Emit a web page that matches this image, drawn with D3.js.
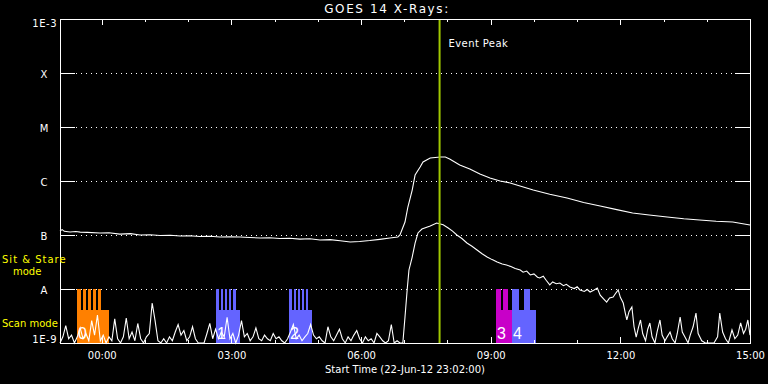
<!DOCTYPE html>
<html><head><meta charset="utf-8">
<script src="https://cdn.jsdelivr.net/npm/d3@7"></script>
<style>
html,body{margin:0;padding:0;background:#000;}
svg{display:block;}
text{font-family:"DejaVu Sans",sans-serif;}
</style></head>
<body>
<svg id="chart" width="768" height="384"></svg>
<script>
// ---------- DATA ----------
// time in minutes relative to 23-Jun-12 00:00 (start 22-Jun 23:02 = -58)
const timeStart = -58, timeEnd = 900;
const titleText = "GOES 14 X-Rays:";
const xTitle = "Start Time (22-Jun-12 23:02:00)";
const majorTicks = [0, 180, 360, 540, 720, 900];
const majorLabels = ["00:00", "03:00", "06:00", "09:00", "12:00", "15:00"];
const minorTicks = [60, 120, 240, 300, 420, 480, 600, 660, 780, 840];
const classValues = [1e-8, 1e-7, 1e-6, 1e-5, 1e-4];
const classLabels = ["A", "B", "C", "M", "X"];
const eventPeak = 469;

// long channel (1-8 A) [minute, W/m2]
const longTimes = [-58,-55,-52,-44,-36,-30,-20,-2.5,10,25,40,53,67,81,95,109,122,136,150,164,178,192,205,220,233,247,261,275,289,303,317,331,345,358,372,386,400,411,414,421,425,431,435,442,446,456,470,477,483,497,511,525,539,553,567,583,599,622,646,669,692,715,737,760,785,808,830,853,876,900];
const longFlux  = [1.19e-7,1.26e-7,1.17e-7,1.14e-7,1.16e-7,1.13e-7,1.12e-7,1.09e-7,1.10e-7,1.04e-7,1.06e-7,1.0e-7,1.01e-7,9.8e-8,9.9e-8,9.6e-8,9.7e-8,9.4e-8,9.5e-8,9.2e-8,9.3e-8,9.2e-8,9.0e-8,8.8e-8,8.9e-8,8.6e-8,8.7e-8,8.4e-8,8.5e-8,8.1e-8,8.2e-8,7.8e-8,7.4e-8,7.6e-8,7.9e-8,8.3e-8,8.8e-8,9.2e-8,1.0e-7,1.74e-7,3.3e-7,6.8e-7,1.29e-6,1.82e-6,2.25e-6,2.67e-6,2.78e-6,2.78e-6,2.55e-6,1.98e-6,1.67e-6,1.35e-6,1.14e-6,1.0e-6,9.2e-7,7.9e-7,6.8e-7,5.7e-7,4.84e-7,4.0e-7,3.44e-7,2.95e-7,2.56e-7,2.35e-7,2.15e-7,2.0e-7,1.9e-7,1.8e-7,1.74e-7,1.53e-7];

// short channel (0.5-4 A) [minute, W/m2]
const shortTimes = [-58,-54,-50,-46,-42,-38,-34,-30,-26,-22,-18,-14,-10,-6,-2,2,6,10,14,18,22,26,30,34,38,42,46,50,54,58,62,66,70,74,78,82,86,90,94,98,102,106,110,114,118,122,126,130,134,138,142,146,150,154,158,162,166,170,174,178,182,186,190,194,198,202,206,210,214,218,222,226,230,234,238,242,246,250,254,258,262,266,270,274,278,282,286,290,294,298,302,306,310,314,318,322,326,330,334,338,342,346,350,354,358,362,366,370,374,378,382,386,390,394,398,402,406,410,414,418,421,424,426.5,431,435,439,444.5,456,465,470,474,481,487,493,500,507,514,521,528,535,542,549,556,562,568,574,581,585,590,595,600,605,608,613,617,622,626,631,636,641,645,650,656,660,664,670,674,678,683,688,692,697,701,705,710,714,717,720,724,727,729,732,736,739,742,745,748,751,755,758,761,764,768,771,775,778,782,785,789,792,796,799,803,806,811,814,817,821,825,828,833,838,844,850,855,858,862,866,870,875,879,883,887,891,894,897,900];
const shortFlux = [1.0e-9,1.3e-9,2.1e-9,1.2e-9,1.4e-9,0.9e-9,1.3e-9,1.9e-9,1.2e-9,1.5e-9,1.1e-9,2.6e-9,1.4e-9,3.3e-9,1.1e-9,1.4e-9,1.0e-9,1.3e-9,1.1e-9,2.8e-9,1.2e-9,0.9e-9,1.3e-9,2.9e-9,1.2e-9,1.6e-9,1.1e-9,2.3e-9,1.2e-9,1.0e-9,1.3e-9,1.5e-9,5.5e-9,2.6e-9,1.1e-9,1.0e-9,1.2e-9,0.9e-9,1.3e-9,1.1e-9,1.6e-9,2.2e-9,1.4e-9,1.7e-9,1.1e-9,1.3e-9,2.0e-9,1.2e-9,0.9e-9,1.0e-9,0.9e-9,1.5e-9,2.3e-9,1.2e-9,1.8e-9,1.2e-9,1.6e-9,1.3e-9,3.0e-9,1.2e-9,1.5e-9,1.0e-9,1.4e-9,2.6e-9,1.3e-9,1.5e-9,1.1e-9,1.3e-9,1.9e-9,1.2e-9,1.1e-9,1.4e-9,1.2e-9,1.1e-9,1.5e-9,1.2e-9,1.3e-9,1.1e-9,1.0e-9,1.2e-9,1.6e-9,2.2e-9,1.2e-9,1.4e-9,1.1e-9,1.3e-9,1.5e-9,2.2e-9,1.4e-9,1.2e-9,1.3e-9,1.1e-9,1.0e-9,2.0e-9,1.3e-9,1.1e-9,1.4e-9,1.8e-9,1.2e-9,1.0e-9,1.3e-9,1.1e-9,1.4e-9,1.7e-9,1.2e-9,1.0e-9,1.3e-9,1.1e-9,1.2e-9,1.0e-9,1.5e-9,1.3e-9,1.1e-9,0.9e-9,1.1e-9,2.2e-9,0.9e-9,1.1e-9,0.8e-9,0.8e-9,3.03e-9,9.6e-9,2.25e-8,3.91e-8,7.1e-8,1.09e-7,1.29e-7,1.47e-7,1.67e-7,1.60e-7,1.55e-7,1.35e-7,1.18e-7,1.0e-7,8.6e-8,7.1e-8,6.2e-8,5.27e-8,4.5e-8,3.91e-8,3.5e-8,3.16e-8,2.9e-8,2.78e-8,2.6e-8,2.4e-8,2.25e-8,2.05e-8,2.15e-8,1.82e-8,1.9e-8,1.65e-8,1.6e-8,1.72e-8,1.45e-8,1.19e-8,1.35e-8,1.25e-8,1.29e-8,1.15e-8,1.22e-8,1.09e-8,1.02e-8,1.1e-8,9.6e-9,9.0e-9,9.8e-9,8.8e-9,9.5e-9,1.04e-8,7.7e-9,6.5e-9,5.7e-9,6.8e-9,7.1e-9,8.5e-9,9.6e-9,7.0e-9,5.5e-9,3.5e-9,2.67e-9,3.8e-9,4.64e-9,2.0e-9,1.29e-9,1.9e-9,2.67e-9,1.5e-9,1.1e-9,1.8e-9,2.35e-9,1.3e-9,0.9e-9,1.6e-9,2.67e-9,1.4e-9,1.1e-9,1.3e-9,1.6e-9,1.2e-9,0.9e-9,1.5e-9,3.03e-9,1.6e-9,1.2e-9,1.0e-9,1.4e-9,2.0e-9,3.59e-9,1.5e-9,1.1e-9,0.9e-9,0.8e-9,1.0e-9,1.3e-9,3.59e-9,1.6e-9,1.2e-9,1.0e-9,1.74e-9,1.2e-9,1.4e-9,2.35e-9,1.5e-9,1.8e-9,2.67e-9,1.4e-9];

// observation blocks (scan mode block + sit & stare prongs)
const obsLabels = ["0", "1", "2", "3", "4"];
const obsColors = ["#ff8000", "#6464ff", "#6464ff", "#c800c8", "#6464ff"];
const obsScan = [[-34.4, 10.0], [158.5, 191.9], [259.9, 291.8], [547.2, 569.4], [569.4, 602.7]];
const obsStare = [
  [[-34.4,-28.9],[-26.1,-21.9],[-19.2,-15.0],[-12.2,-8.1],[-5.3,-1.1]],
  [[158.5,162.7],[165.5,168.2],[171.0,173.8],[176.6,179.4],[182.2,186.3]],
  [[259.9,264.1],[266.8,269.6],[272.4,275.2],[278.0,280.7],[283.5,286.3]],
  [[547.2,554.2],[557.0,563.9]],
  [[569.4,579.1],[586.0,594.4]]
];
const scanLevel = 4.08e-9, stareLevel = 1e-8;
const modeLabels = ["Sit & Stare", "mode", "Scan mode"];

// ---------- DRAW ----------
const L = 60, R = 750, T = 19, B = 343;
const svg = d3.select("#chart");
svg.append("rect").attr("width", 768).attr("height", 384).attr("fill", "#000");

const x = d3.scaleLinear().domain([timeStart, timeEnd]).range([L, R]);
const y = d3.scaleLog().domain([1e-9, 1e-3]).range([B, T]).clamp(true);

// grid (dotted)
svg.append("g").selectAll("line").data(classValues).join("line")
  .attr("x1", L + 16).attr("x2", R - 15)
  .attr("y1", d => Math.round(y(d)) + 0.5).attr("y2", d => Math.round(y(d)) + 0.5)
  .attr("stroke", "#fff").attr("stroke-width", 1).attr("stroke-dasharray", "1,4")
  .attr("shape-rendering", "crispEdges");

// observation blocks
const obsG = svg.append("g").attr("shape-rendering", "crispEdges");
obsScan.forEach((s, i) => {
  obsG.append("rect").attr("x", x(s[0])).attr("width", x(s[1]) - x(s[0]))
    .attr("y", y(scanLevel)).attr("height", B - y(scanLevel)).attr("fill", obsColors[i]);
  obsStare[i].forEach(p => {
    obsG.append("rect").attr("x", x(p[0])).attr("width", x(p[1]) - x(p[0]))
      .attr("y", y(stareLevel)).attr("height", B - y(stareLevel)).attr("fill", obsColors[i]);
  });
});

// curves
const line = d3.line().x(d => x(d[0])).y(d => y(d[1]));
const longData = longTimes.map((t, i) => [t, longFlux[i]]);
const shortData = shortTimes.map((t, i) => [t, shortFlux[i]]);
svg.append("path").datum(longData).attr("d", line).attr("fill", "none")
  .attr("stroke", "#fff").attr("stroke-width", 1.1);
svg.append("path").datum(shortData).attr("d", line).attr("fill", "none")
  .attr("stroke", "#fff").attr("stroke-width", 1.1);

// observation labels
obsScan.forEach((s, i) => {
  svg.append("text").attr("x", x(s[0]) + 1).attr("y", 339)
    .style("font-family", "'Liberation Sans',sans-serif").style("font-size", "16px")
    .attr("fill", "#fff").text(obsLabels[i]);
});

// event peak
svg.append("line").attr("x1", x(eventPeak)).attr("x2", x(eventPeak))
  .attr("y1", T).attr("y2", B).attr("stroke", "#a0c800").attr("stroke-width", 2);
svg.append("text").attr("x", x(eventPeak) + 9).attr("y", 47).attr("fill", "#fff")
  .style("font-size", "10px").style("letter-spacing", "0.4px").text("Event Peak");

// axes
function styleAxis(g) {
  g.attr("color", "#fff");
  g.select(".domain").remove();
  g.selectAll("line").attr("stroke", "#fff").attr("shape-rendering", "crispEdges");
  g.selectAll("text").attr("fill", "#fff").style("font-size", "10px")
    .style("font-family", "'DejaVu Sans',sans-serif");
}
// bottom
svg.append("g").attr("transform", `translate(0,${B})`)
  .call(d3.axisBottom(x).tickValues(majorTicks).tickSize(-6).tickSizeOuter(0)
    .tickPadding(9).tickFormat((d, i) => majorLabels[i]))
  .call(styleAxis);
svg.append("g").attr("transform", `translate(0,${B})`)
  .call(d3.axisBottom(x).tickValues(minorTicks).tickSize(-3).tickSizeOuter(0).tickFormat(""))
  .call(styleAxis);
// top
svg.append("g").attr("transform", `translate(0,${T})`)
  .call(d3.axisTop(x).tickValues(majorTicks).tickSize(-6).tickSizeOuter(0).tickFormat(""))
  .call(styleAxis);
svg.append("g").attr("transform", `translate(0,${T})`)
  .call(d3.axisTop(x).tickValues(minorTicks).tickSize(-3).tickSizeOuter(0).tickFormat(""))
  .call(styleAxis);
// left
const yl = svg.append("g").attr("transform", `translate(${L},0)`)
  .call(d3.axisLeft(y).tickValues(classValues).tickSize(-15).tickSizeOuter(0)
    .tickPadding(16).tickFormat((d, i) => classLabels[i]))
  .call(styleAxis);
yl.selectAll("text").attr("text-anchor", "middle").attr("dy", "0.4em");
// right
svg.append("g").attr("transform", `translate(${R},0)`)
  .call(d3.axisRight(y).tickValues(classValues).tickSize(-15).tickSizeOuter(0).tickFormat(""))
  .call(styleAxis);

// frame
svg.append("rect").attr("x", L + 0.5).attr("y", T + 0.5).attr("width", R - L).attr("height", B - T)
  .attr("fill", "none").attr("stroke", "#fff").attr("stroke-width", 1)
  .attr("shape-rendering", "crispEdges");

// end labels
svg.append("text").attr("x", 57).attr("y", 27).attr("text-anchor", "end").attr("fill", "#fff")
  .style("font-size", "10px").style("letter-spacing", "0.5px").text("1E-3");
svg.append("text").attr("x", 57).attr("y", 343).attr("text-anchor", "end").attr("fill", "#fff")
  .style("font-size", "10px").style("letter-spacing", "0.5px").text("1E-9");

// title and x title
svg.append("text").attr("x", 387).attr("y", 13).attr("text-anchor", "middle").attr("fill", "#fff")
  .style("font-size", "12px").style("letter-spacing", "1.6px").text(titleText);
svg.append("text").attr("x", 405).attr("y", 373).attr("text-anchor", "middle").attr("fill", "#fff")
  .style("font-size", "10px").text(xTitle);

// mode labels
svg.append("text").attr("x", 2).attr("y", 263).attr("fill", "#ffff00")
  .style("font-size", "10px").style("letter-spacing", "1px").text(modeLabels[0]);
svg.append("text").attr("x", 13).attr("y", 275).attr("fill", "#ffff00")
  .style("font-size", "10px").text(modeLabels[1]);
svg.append("text").attr("x", 2).attr("y", 327).attr("fill", "#ffff00")
  .style("font-size", "10px").text(modeLabels[2]);
</script>
</body></html>
